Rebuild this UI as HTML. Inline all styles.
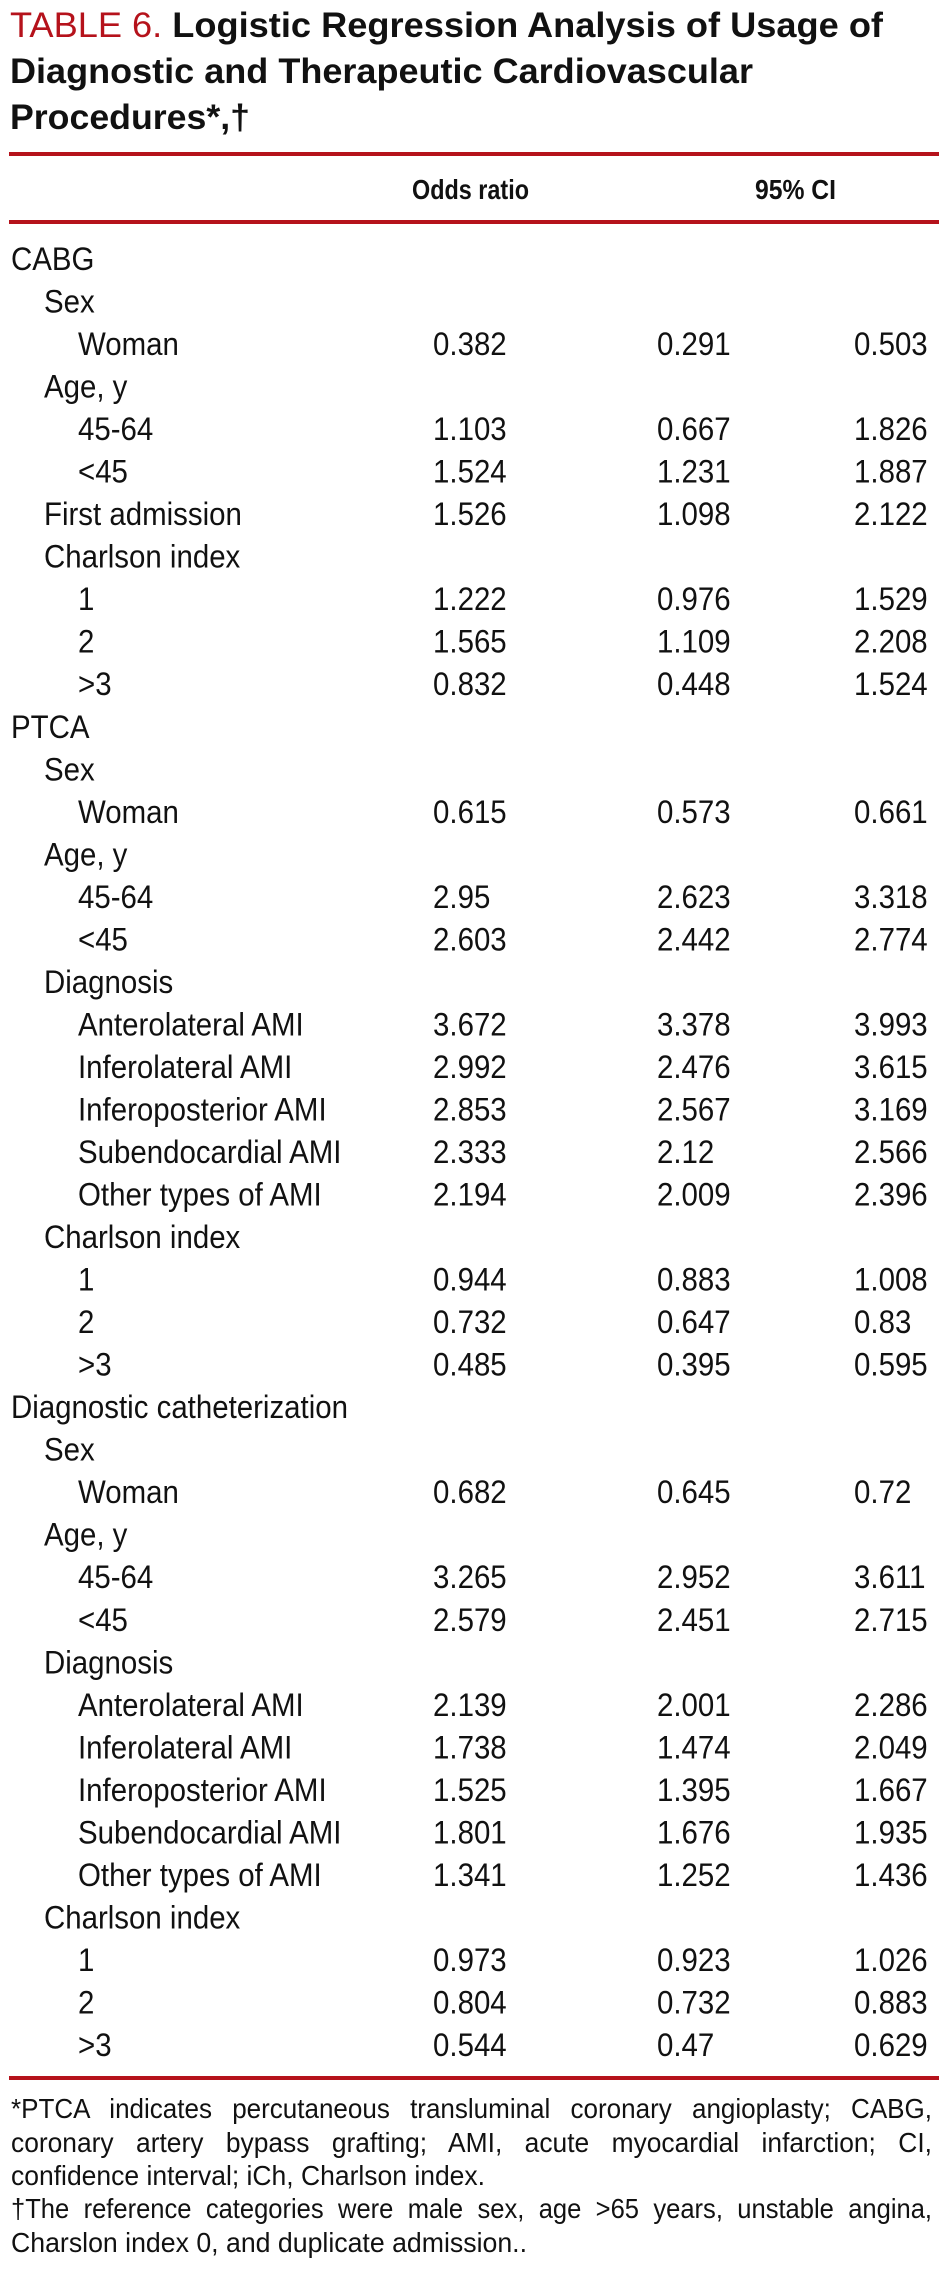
<!DOCTYPE html>
<html><head><meta charset="utf-8"><style>
html,body{margin:0;padding:0;background:#fff;width:939px;height:2273px;overflow:hidden}
svg{display:block}
text{font-family:"Liberation Sans",sans-serif;fill:#111}
</style></head><body>
<svg id="tbl" width="939" height="2273" viewBox="0 0 939 2273" xmlns="http://www.w3.org/2000/svg">
<g font-size="35">
<text x="10" y="37" textLength="873" lengthAdjust="spacingAndGlyphs"><tspan fill="#b5121b" style="fill:#b5121b">TABLE 6. </tspan><tspan font-weight="bold">Logistic Regression Analysis of Usage of</tspan></text>
<text x="10" y="83" font-weight="bold" textLength="743" lengthAdjust="spacingAndGlyphs">Diagnostic and Therapeutic Cardiovascular</text>
<text x="10" y="129" font-weight="bold" textLength="240" lengthAdjust="spacingAndGlyphs">Procedures*,†</text>
</g>
<rect x="9" y="152" width="930" height="4" fill="#b5121b"/>
<text x="412" y="199" font-size="28" font-weight="bold" textLength="117" lengthAdjust="spacingAndGlyphs">Odds ratio</text>
<text x="755" y="199" font-size="28" font-weight="bold" textLength="81" lengthAdjust="spacingAndGlyphs">95% CI</text>
<rect x="9" y="220" width="930" height="4" fill="#b5121b"/>
<g id="rows"></g>
<rect x="9" y="2076" width="930" height="4" fill="#b5121b"/>
<g font-size="28">
<text x="11" y="2118" textLength="921" lengthAdjust="spacingAndGlyphs" word-spacing="14">*PTCA indicates percutaneous transluminal coronary angioplasty; CABG,</text>
<text x="11" y="2152" textLength="921" lengthAdjust="spacingAndGlyphs" word-spacing="16">coronary artery bypass grafting; AMI, acute myocardial infarction; CI,</text>
<text x="11" y="2185" textLength="474" lengthAdjust="spacingAndGlyphs">confidence interval; iCh, Charlson index.</text>
<text x="11" y="2218" textLength="921" lengthAdjust="spacingAndGlyphs" word-spacing="8">†The reference categories were male sex, age &gt;65 years, unstable angina,</text>
<text x="11" y="2252" textLength="516" lengthAdjust="spacingAndGlyphs">Charslon index 0, and duplicate admission..</text>
</g>
</svg>
<script>
const labels=["CABG","Sex","Woman","Age, y","45-64","<45","First admission","Charlson index","1","2",">3",
"PTCA","Sex","Woman","Age, y","45-64","<45","Diagnosis","Anterolateral AMI","Inferolateral AMI","Inferoposterior AMI","Subendocardial AMI","Other types of AMI","Charlson index","1","2",">3",
"Diagnostic catheterization","Sex","Woman","Age, y","45-64","<45","Diagnosis","Anterolateral AMI","Inferolateral AMI","Inferoposterior AMI","Subendocardial AMI","Other types of AMI","Charlson index","1","2",">3"];
const levels=[0,1,2,1,2,2,1,1,2,2,2, 0,1,2,1,2,2,1,2,2,2,2,2,1,2,2,2, 0,1,2,1,2,2,1,2,2,2,2,2,1,2,2,2];
const oddsRatio=["","","0.382","","1.103","1.524","1.526","","1.222","1.565","0.832",
"","","0.615","","2.95","2.603","","3.672","2.992","2.853","2.333","2.194","","0.944","0.732","0.485",
"","","0.682","","3.265","2.579","","2.139","1.738","1.525","1.801","1.341","","0.973","0.804","0.544"];
const ciLow=["","","0.291","","0.667","1.231","1.098","","0.976","1.109","0.448",
"","","0.573","","2.623","2.442","","3.378","2.476","2.567","2.12","2.009","","0.883","0.647","0.395",
"","","0.645","","2.952","2.451","","2.001","1.474","1.395","1.676","1.252","","0.923","0.732","0.47"];
const ciHigh=["","","0.503","","1.826","1.887","2.122","","1.529","2.208","1.524",
"","","0.661","","3.318","2.774","","3.993","3.615","3.169","2.566","2.396","","1.008","0.83","0.595",
"","","0.72","","3.611","2.715","","2.286","2.049","1.667","1.935","1.436","","1.026","0.883","0.629"];
const NS="http://www.w3.org/2000/svg";
const g=document.getElementById('rows');
const y0=270,pitch=(2056-270)/42,indent=[11,44,78],colX=[433,657,854],sx=0.92;
function mk(x,y,s,name){
  const t=document.createElementNS(NS,'text');
  t.setAttribute('x',(x/sx).toFixed(1));
  t.setAttribute('y',y.toFixed(1));
  t.setAttribute('font-size','32');
  t.setAttribute('transform','scale('+sx+',1)');
  t.textContent=s;
  
  
  g.appendChild(t);
}
labels.forEach((l,i)=>{
  const y=y0+i*pitch;
  mk(indent[levels[i]],y,l,'row-label');
  if(oddsRatio[i]) mk(colX[0],y,oddsRatio[i],'odds-ratio-value');
  if(ciLow[i]) mk(colX[1],y,ciLow[i],'ci-lower-value');
  if(ciHigh[i]) mk(colX[2],y,ciHigh[i],'ci-upper-value');
});
</script>
</body></html>
